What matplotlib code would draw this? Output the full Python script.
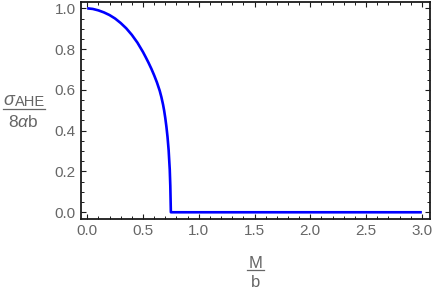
import matplotlib
matplotlib.use("Agg")
import matplotlib.pyplot as plt
from matplotlib.lines import Line2D
from matplotlib.ticker import MultipleLocator

# Data
m_curve = [0.00, 0.05, 0.10, 0.15, 0.20, 0.25, 0.30, 0.35, 0.40, 0.45, 0.50,
           0.525, 0.55, 0.575, 0.60, 0.625, 0.65, 0.665, 0.68, 0.69, 0.70, 0.71,
           0.72, 0.73, 0.74, 0.745, 0.75, 0.75, 3.00]
sigma_curve = [1.000, 0.997, 0.990, 0.980, 0.967, 0.950, 0.928, 0.902, 0.870, 0.832, 0.786,
               0.760, 0.733, 0.704, 0.672, 0.637, 0.596, 0.565, 0.528, 0.498, 0.462, 0.420,
               0.370, 0.305, 0.210, 0.130, 0.000, 0.000, 0.000]
x_ticks = [0.0, 0.5, 1.0, 1.5, 2.0, 2.5, 3.0]
y_ticks = [0.0, 0.2, 0.4, 0.6, 0.8, 1.0]

plt.rcParams['font.family'] = ['Liberation Sans', 'DejaVu Sans']
plt.rcParams['mathtext.fontset'] = 'custom'
plt.rcParams['mathtext.rm'] = 'Liberation Sans'
plt.rcParams['mathtext.it'] = 'Liberation Sans:italic'

W, H = 433, 294
fig = plt.figure(figsize=(W / 100, H / 100), dpi=100)
ax = fig.add_axes([80.5 / W, 1 - 219 / H, 349.5 / W, 217 / H])

ax.plot(m_curve, sigma_curve, color='#0000ff', lw=1.9,
        solid_joinstyle='round', solid_capstyle='butt')

ax.set_xlim(-0.06, 3.073)
ax.set_ylim(-0.033, 1.031)
ax.set_xticks(x_ticks)
ax.set_yticks(y_ticks)
ax.set_xticklabels([f"{v:.1f}" for v in x_ticks])
ax.set_yticklabels([f"{v:.1f}" for v in y_ticks])
ax.xaxis.set_minor_locator(MultipleLocator(0.1))
ax.yaxis.set_minor_locator(MultipleLocator(0.05))

frame_col = '#1a1a1a'
lab_col = '#666666'
for s in ax.spines.values():
    s.set_color(frame_col)
    s.set_linewidth(1.3)
ax.tick_params(which='both', direction='in', top=True, right=True,
               color=frame_col, labelcolor=lab_col, labelsize=11)
ax.tick_params(which='major', length=3.5, width=0.8)
ax.tick_params(which='minor', length=2.0, width=0.7)
ax.tick_params(axis='y', pad=3.5)
ax.tick_params(axis='x', pad=3.5)

def fx(px):
    return px / W

def fy(py):
    return 1 - py / H

# y label: sigma_AHE / 8 alpha b
fig.text(fx(3), fy(105), r'$\sigma$', fontsize=13, color=lab_col, ha='left', va='baseline')
fig.text(fx(15), fy(105.5), 'AHE', fontsize=10.5, color=lab_col, ha='left', va='baseline')
fig.add_artist(Line2D([fx(3), fx(45)], [fy(109), fy(109)], color=lab_col, lw=0.9))
fig.text(fx(23.5), fy(127), r'8$\alpha$b', fontsize=12.5, color=lab_col, ha='center', va='baseline')

# x label: M / b
fig.text(fx(255.5), fy(267.5), 'M', fontsize=12, color=lab_col, ha='center', va='baseline')
fig.add_artist(Line2D([fx(247), fx(264)], [fy(270), fy(270)], color=lab_col, lw=0.9))
fig.text(fx(255.5), fy(287), 'b', fontsize=12, color=lab_col, ha='center', va='baseline')

fig.savefig('out.png', dpi=100)
